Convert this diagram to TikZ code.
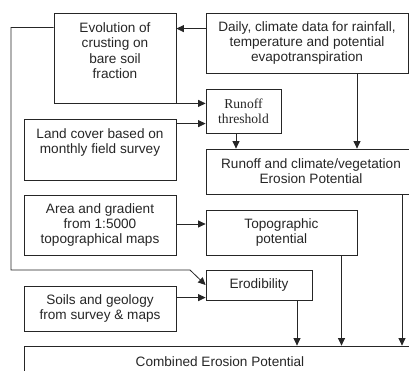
\documentclass[tikz,border=0pt]{standalone}
\usepackage{fontspec}
\setmainfont{Liberation Sans}
\newfontfamily\serifrm{Liberation Serif}
\usetikzlibrary{arrows.meta,calc}
\begin{document}
\begin{tikzpicture}[x=1pt,y=-1pt,
  box/.style={draw=black!85, line width=0.8pt, inner sep=0pt, align=center,
    font=\fontsize{13.6}{15.2}\selectfont, text=black!85},
  arr/.style={draw=black!85, line width=0.8pt, -{Triangle[length=7.5pt,width=7pt]}},
  ln/.style={draw=black!85, line width=0.8pt}]
\clip (0,0) rectangle (409,371);
\useasboundingbox (0,0) rectangle (409,371);
\node[box, minimum width=122, minimum height=90, text depth=15pt] (evo) at (115,58) {Evolution of\\crusting on\\bare soil\\fraction};
\node[box, minimum width=202, minimum height=60] (daily) at (307,43) {Daily, climate data for rainfall,\\temperature and potential\\evapotranspiration};
\node[box, minimum width=75, minimum height=44, font=\fontsize{13.6}{15.2}\serifrm] (thr) at (243.5,111) {Runoff\\threshold};
\node[box, minimum width=152, minimum height=61, text depth=17pt] (land) at (100,149.5) {Land cover based on\\monthly field survey};
\node[box, minimum width=210, minimum height=45] (rc) at (311,171.5) {Runoff and climate/vegetation\\Erosion Potential};
\node[box, minimum width=152, minimum height=60] (area) at (100,225) {Area and gradient\\from 1:5000\\topographical maps};
\node[box, minimum width=151, minimum height=45] (topo) at (281.5,232.5) {Topographic\\potential};
\node[box, minimum width=106, minimum height=30] (erod) at (259,285) {Erodibility};
\node[box, minimum width=152, minimum height=45] (soils) at (100,308.5) {Soils and geology\\from survey \& maps};
\node[box, minimum width=392, minimum height=32] (comb) at (220,362) {Combined Erosion Potential};
% connectors
\coordinate (d1) at ($(daily.north west)+(0,16)$);
\draw[arr] (d1) -- (d1 -| evo.east);
\coordinate (e1) at ($(evo.north west)+(0,15)$);
\coordinate (cornerL) at (11,270);
\coordinate (elbow) at (190,270);
\draw[arr] (e1) -- (e1 -| cornerL) -- (cornerL) -- (elbow) -- (erod.west);
\draw[arr] (evo.south east) -- (evo.south east -| thr.west);
\coordinate (l1) at ($(land.north east)+(0,5)$);
\draw[arr] (l1) -- (l1 -| thr.west);
\coordinate (t1) at ($(thr.south)+(-7.5,0)$);
\draw[arr] (t1) -- (t1 |- rc.north);
\coordinate (d2) at ($(daily.south)+(50,0)$);
\draw[arr] (d2) -- (d2 |- rc.north);
\coordinate (a1) at ($(area.east)+(0,-1)$);
\draw[arr] (a1) -- (a1 -| topo.west);
\coordinate (s1) at ($(soils.north east)+(0,12)$);
\draw[arr] (s1) -- (s1 -| erod.west);
\coordinate (r1) at ($(erod.south)+(38,0)$);
\draw[arr] (r1) -- (r1 |- comb.north);
\coordinate (p1) at ($(topo.south)+(60,0)$);
\draw[arr] (p1) -- (p1 |- comb.north);
\coordinate (c1) at ($(rc.south)+(91,0)$);
\draw[arr] (c1) -- (c1 |- comb.north);
\end{tikzpicture}
\end{document}
